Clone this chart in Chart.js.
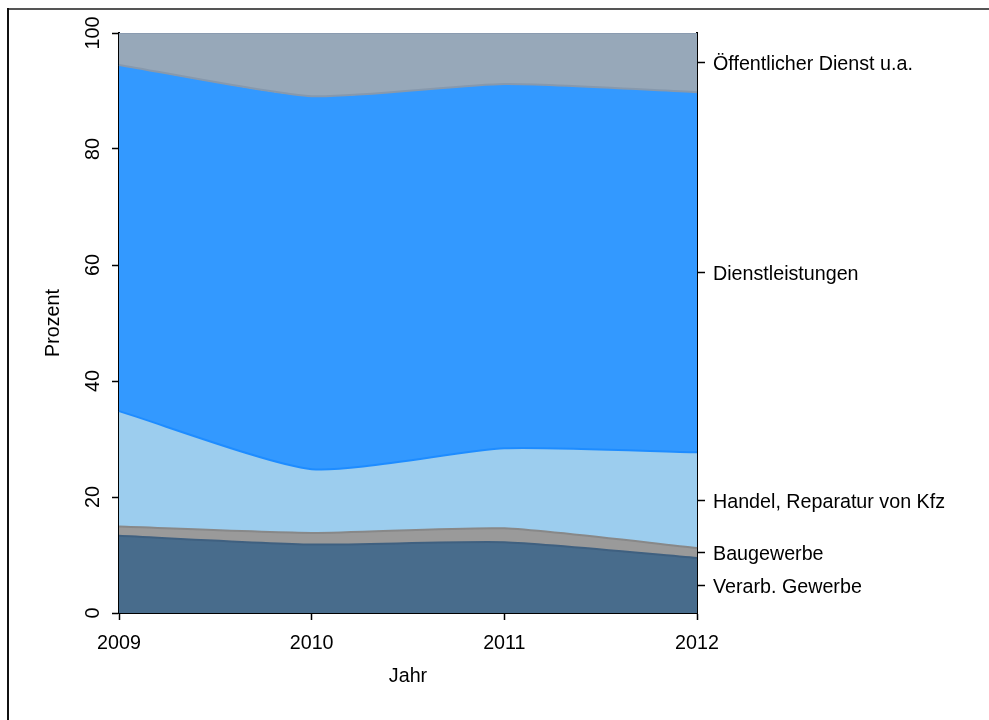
<!DOCTYPE html>
<html>
<head>
<meta charset="utf-8">
<script src="https://cdn.jsdelivr.net/npm/chart.js@4"></script>
<style>
  body { margin: 0; background: #fff; }
  #wrap { width: 989px; height: 720px; }
</style>
</head>
<body>
<div id="wrap"><canvas id="chart" width="989" height="720"></canvas></div>
<script>
const years = ["2009", "2010", "2011", "2012"];
// Anteile in Prozent je Wirtschaftszweig
const verarb = [13.3, 11.8, 12.2, 9.5];
const bau = [1.6, 2.0, 2.4, 1.7];
const handel = [19.9, 11.0, 13.8, 16.5];
const dienst = [59.7, 64.3, 62.8, 62.1];
const oeff = [5.5, 10.9, 8.8, 10.2];
const sectorNames = ["Verarb. Gewerbe", "Baugewerbe", "Handel, Reparatur von Kfz", "Dienstleistungen", "Öffentlicher Dienst u.a."];
const yTicks = [0, 20, 40, 60, 80, 100];

const series = [verarb, bau, handel, dienst, oeff];
const fills = ["#486c8c", "#9a9a9a", "#9ccdee", "#3399ff", "#97a8b9"];
const lines = ["#3f6080", "#888888", "#1e8cff", "#8799ad", "#8a9bb0"];

// Beschriftung rechts: Mitte jedes Bandes im letzten Jahr
const last = series.map(s => s[s.length - 1]);
const mids = [];
let acc = 0;
last.forEach(v => { mids.push(acc + v / 2); acc += v; });

const font = { family: "'Liberation Sans', Arial, sans-serif", size: 19.7 };

const frame = {
  id: "frame",
  afterDraw(chart) {
    const ctx = chart.ctx;
    ctx.save();
    ctx.lineWidth = 2;
    ctx.strokeStyle = "#555";
    ctx.beginPath();
    ctx.moveTo(7, 9);
    ctx.lineTo(989, 9);
    ctx.stroke();
    ctx.strokeStyle = "#111";
    ctx.beginPath();
    ctx.moveTo(8, 8);
    ctx.lineTo(8, 720);
    ctx.stroke();
    ctx.restore();
  }
};

new Chart(document.getElementById("chart"), {
  type: "line",
  plugins: [frame],
  data: {
    labels: years,
    datasets: series.map((s, i) => ({
      label: sectorNames[i],
      data: s,
      backgroundColor: fills[i],
      borderColor: lines[i],
      borderWidth: 2,
      pointRadius: 0,
      tension: 0.2,
      fill: i === 0 ? "origin" : "-1",
      yAxisID: "y"
    }))
  },
  options: {
    responsive: false,
    animation: false,
    layout: { padding: { left: 30, top: 33, right: 0, bottom: 0 } },
    plugins: {
      legend: { display: false },
      tooltip: { enabled: false }
    },
    scales: {
      x: {
        type: "category",
        offset: false,
        grid: { drawOnChartArea: false, drawTicks: true, tickLength: 7, tickColor: "#000", tickWidth: 1.5, offset: false },
        border: { color: "#000", width: 2 },
        ticks: { color: "#000", font: font, padding: 12, maxRotation: 0 },
        title: { display: true, text: "Jahr", color: "#000", font: font, padding: { top: 0, bottom: 32 } },
        afterFit(scale) { scale.height = 107; }
      },
      y: {
        position: "left",
        stacked: true,
        min: 0,
        max: 100,
        afterBuildTicks(scale) { scale.ticks = yTicks.map(v => ({ value: v })); },
        grid: { drawOnChartArea: false, drawTicks: true, tickLength: 7, tickColor: "#000", tickWidth: 1.5 },
        border: { color: "#000", width: 2 },
        ticks: { color: "#000", font: font, minRotation: 90, maxRotation: 90, crossAlign: "center", padding: 2 },
        title: { display: true, text: "Prozent", color: "#000", font: font, padding: { top: 12, bottom: 0 } },
        afterFit(scale) { scale.width = 89; }
      },
      y2: {
        position: "right",
        min: 0,
        max: 100,
        afterBuildTicks(scale) { scale.ticks = mids.map(v => ({ value: v })); },
        grid: { drawOnChartArea: false, drawTicks: true, tickLength: 8, tickColor: "#000", tickWidth: 1.5 },
        border: { color: "#000", width: 2 },
        ticks: {
          color: "#000",
          font: font,
          padding: 8,
          labelOffset: 2,
          callback: (v, i) => sectorNames[i]
        },
        afterFit(scale) { scale.width = 292; }
      }
    }
  }
});
</script>
</body>
</html>
